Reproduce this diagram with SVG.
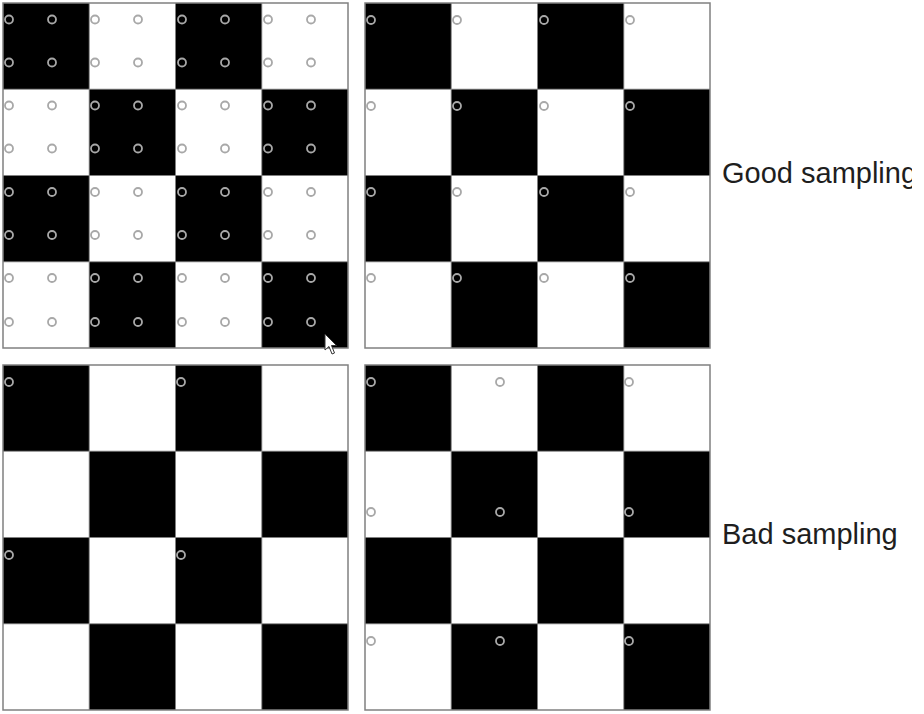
<svg xmlns="http://www.w3.org/2000/svg" width="924" height="714" viewBox="0 0 924 714">
<defs>
<style>
.b{fill:#000}
.frame{fill:none;stroke:#808080;stroke-width:1.5}
.s{fill:none;stroke:#a8a8a8;stroke-width:1.8}
.lbl{font-family:"Liberation Sans",Arial,sans-serif;font-size:29px;fill:#1e1e1e}
</style>
<pattern id="chk" x="0" y="0" width="172.5" height="172.5" patternUnits="userSpaceOnUse">
<rect width="172.5" height="172.5" fill="#fff"/>
<rect x="0" y="0" width="86.25" height="86.25" fill="#000"/>
<rect x="86.25" y="86.25" width="86.25" height="86.25" fill="#000"/>
</pattern>
<clipPath id="clipR"><rect x="0" y="0" width="912" height="714"/></clipPath>
</defs>
<rect width="924" height="714" fill="#fff"/>

<g id="panel-tl" transform="translate(3,3)">
<rect width="345" height="345" fill="url(#chk)"/>
<rect width="345" height="345" class="frame"/>
<g class="s">
<circle cx="6" cy="16.5" r="4"/><circle cx="49" cy="16.5" r="4"/><circle cx="92" cy="16.5" r="4"/><circle cx="135" cy="16.5" r="4"/><circle cx="179" cy="16.5" r="4"/><circle cx="222" cy="16.5" r="4"/><circle cx="265" cy="16.5" r="4"/><circle cx="308" cy="16.5" r="4"/>
<circle cx="6" cy="59.5" r="4"/><circle cx="49" cy="59.5" r="4"/><circle cx="92" cy="59.5" r="4"/><circle cx="135" cy="59.5" r="4"/><circle cx="179" cy="59.5" r="4"/><circle cx="222" cy="59.5" r="4"/><circle cx="265" cy="59.5" r="4"/><circle cx="308" cy="59.5" r="4"/>
<circle cx="6" cy="102.5" r="4"/><circle cx="49" cy="102.5" r="4"/><circle cx="92" cy="102.5" r="4"/><circle cx="135" cy="102.5" r="4"/><circle cx="179" cy="102.5" r="4"/><circle cx="222" cy="102.5" r="4"/><circle cx="265" cy="102.5" r="4"/><circle cx="308" cy="102.5" r="4"/>
<circle cx="6" cy="145.5" r="4"/><circle cx="49" cy="145.5" r="4"/><circle cx="92" cy="145.5" r="4"/><circle cx="135" cy="145.5" r="4"/><circle cx="179" cy="145.5" r="4"/><circle cx="222" cy="145.5" r="4"/><circle cx="265" cy="145.5" r="4"/><circle cx="308" cy="145.5" r="4"/>
<circle cx="6" cy="189" r="4"/><circle cx="49" cy="189" r="4"/><circle cx="92" cy="189" r="4"/><circle cx="135" cy="189" r="4"/><circle cx="179" cy="189" r="4"/><circle cx="222" cy="189" r="4"/><circle cx="265" cy="189" r="4"/><circle cx="308" cy="189" r="4"/>
<circle cx="6" cy="232" r="4"/><circle cx="49" cy="232" r="4"/><circle cx="92" cy="232" r="4"/><circle cx="135" cy="232" r="4"/><circle cx="179" cy="232" r="4"/><circle cx="222" cy="232" r="4"/><circle cx="265" cy="232" r="4"/><circle cx="308" cy="232" r="4"/>
<circle cx="6" cy="275" r="4"/><circle cx="49" cy="275" r="4"/><circle cx="92" cy="275" r="4"/><circle cx="135" cy="275" r="4"/><circle cx="179" cy="275" r="4"/><circle cx="222" cy="275" r="4"/><circle cx="265" cy="275" r="4"/><circle cx="308" cy="275" r="4"/>
<circle cx="6" cy="319" r="4"/><circle cx="49" cy="319" r="4"/><circle cx="92" cy="319" r="4"/><circle cx="135" cy="319" r="4"/><circle cx="179" cy="319" r="4"/><circle cx="222" cy="319" r="4"/><circle cx="265" cy="319" r="4"/><circle cx="308" cy="319" r="4"/>
</g>
</g>

<g id="panel-tr" transform="translate(365,3)">
<rect width="345" height="345" fill="url(#chk)"/>
<rect width="345" height="345" class="frame"/>
<g class="s">
<circle cx="6" cy="17" r="4"/><circle cx="92" cy="17" r="4"/><circle cx="179" cy="17" r="4"/><circle cx="265" cy="17" r="4"/>
<circle cx="6" cy="103" r="4"/><circle cx="92" cy="103" r="4"/><circle cx="179" cy="103" r="4"/><circle cx="265" cy="103" r="4"/>
<circle cx="6" cy="189" r="4"/><circle cx="92" cy="189" r="4"/><circle cx="179" cy="189" r="4"/><circle cx="265" cy="189" r="4"/>
<circle cx="6" cy="275" r="4"/><circle cx="92" cy="275" r="4"/><circle cx="179" cy="275" r="4"/><circle cx="265" cy="275" r="4"/>
</g>
</g>

<g id="panel-bl" transform="translate(3,365)">
<rect width="345" height="345" fill="url(#chk)"/>
<rect width="345" height="345" class="frame"/>
<g class="s">
<circle cx="6" cy="17" r="4"/><circle cx="178" cy="17" r="4"/>
<circle cx="6" cy="190" r="4"/><circle cx="178" cy="190" r="4"/>
</g>
</g>

<g id="panel-br" transform="translate(365,365)">
<rect width="345" height="345" fill="url(#chk)"/>
<rect width="345" height="345" class="frame"/>
<g class="s">
<circle cx="6" cy="17" r="4"/><circle cx="135" cy="17" r="4"/><circle cx="264" cy="17" r="4"/>
<circle cx="6" cy="147" r="4"/><circle cx="135" cy="147" r="4"/><circle cx="264" cy="147" r="4"/>
<circle cx="6" cy="276" r="4"/><circle cx="135" cy="276" r="4"/><circle cx="264" cy="276" r="4"/>
</g>
</g>

<g id="labels">
<text class="lbl" x="722" y="183" clip-path="url(#clipR)">Good sampling</text>
<text class="lbl" x="722" y="544">Bad sampling</text>
</g>

<g id="cursor">
<path d="M325,334 L325,350 L329,346.5 L332,354 L334.5,353 L331.5,345.5 L336.5,345.5 Z" fill="#fff" stroke="#333" stroke-width="1"/>
</g>
</svg>
